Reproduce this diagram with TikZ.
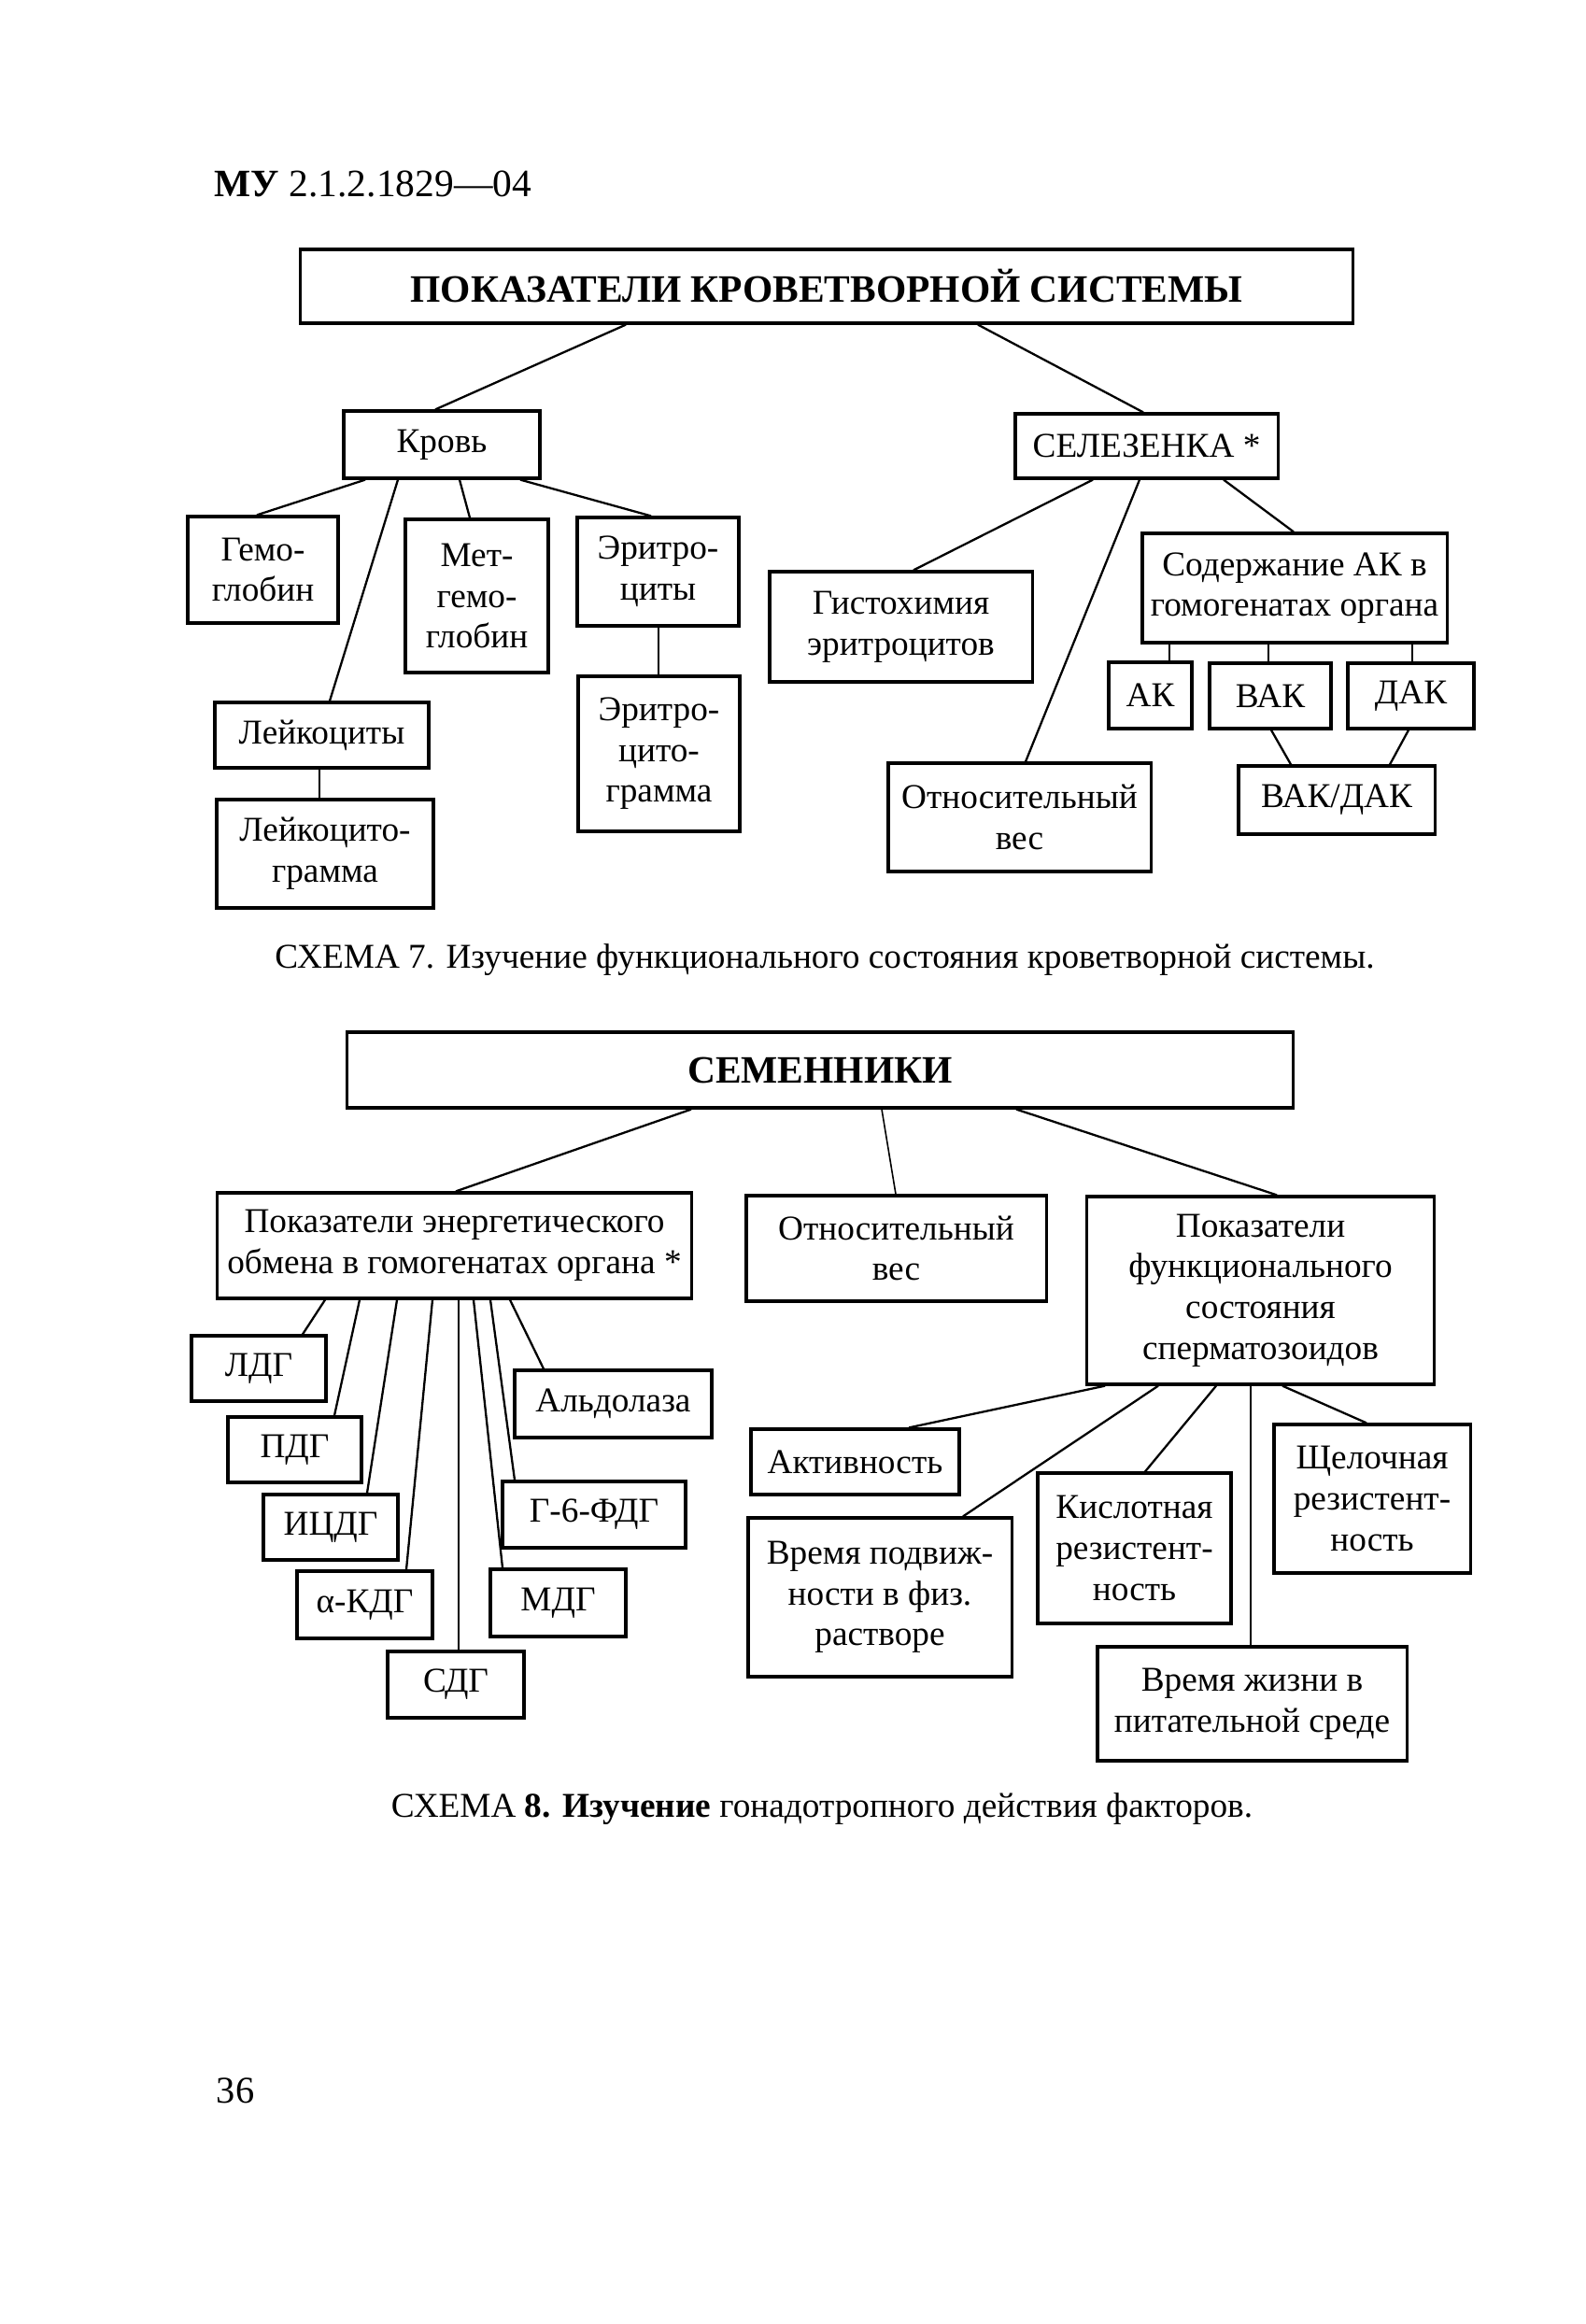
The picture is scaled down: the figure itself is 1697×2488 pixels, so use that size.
\documentclass[tikz,border=0pt]{standalone}
\usepackage{fontspec}
\setmainfont{Liberation Serif}
\usetikzlibrary{calc}
\newcommand\schemefont{\fontsize{10.6}{12.4}\selectfont}
\newcommand\bigboldfont{\fontsize{11.8}{14}\selectfont\bfseries}
\begin{document}
\begin{tikzpicture}[x=0.01cm,y=-0.01cm,
    box/.style={draw,line width=0.9pt,inner sep=0pt,align=center,font=\schemefont},
    titlebox/.style={box,font=\bigboldfont},
    link/.style={line width=0.65pt},
    thinlink/.style={line width=0.45pt}]
    \useasboundingbox (0,0) rectangle (1697,2488);

    \node[anchor=base west,inner sep=0pt,font=\fontsize{11.8}{13}\selectfont] (doc) at (229,211) {\textbf{МУ} 2.1.2.1829—04};

    \node[titlebox,minimum width=11.26cm,minimum height=0.79cm] (krovsys) at (885,306.5) {ПОКАЗАТЕЛИ КРОВЕТВОРНОЙ СИСТЕМЫ};
    \node[box,minimum width=2.10cm,minimum height=0.72cm] (krov) at (473,476) {Кровь};
    \node[box,minimum width=2.81cm,minimum height=0.69cm] (selez) at (1227.5,477.5) {СЕЛЕЗЕНКА *};
    \node[box,minimum width=1.61cm,minimum height=1.14cm] (gemo) at (281.5,610) {Гемо-\\глобин};
    \node[box,minimum width=1.53cm,minimum height=1.64cm] (metgemo) at (510.5,638) {Мет-\\гемо-\\глобин};
    \node[box,minimum width=1.73cm,minimum height=1.16cm] (eritro) at (704.5,612) {Эритро-\\циты};
    \node[box,minimum width=1.73cm,minimum height=1.66cm] (eritrogr) at (705.5,807) {Эритро-\\цито-\\грамма};
    \node[box,minimum width=2.29cm,minimum height=0.70cm] (leik) at (344.5,787) {Лейкоциты};
    \node[box,minimum width=2.32cm,minimum height=1.16cm] (leikgr) at (348,914) {Лейкоцито-\\грамма};
    \node[box,minimum width=2.81cm,minimum height=1.18cm] (gisto) at (964.5,671) {Гистохимия\\эритроцитов};
    \node[box,minimum width=3.26cm,minimum height=1.17cm] (soderzh) at (1386,629.5) {Содержание АК в\\гомогенатах органа};
    \node[box,minimum width=0.89cm,minimum height=0.71cm] (ak) at (1231.5,744.5) {АК};
    \node[box,minimum width=1.30cm,minimum height=0.70cm] (vak) at (1360,745) {ВАК};
    \node[box,minimum width=1.35cm,minimum height=0.70cm] (dak) at (1510.5,745) {ДАК};
    \node[box,minimum width=2.10cm,minimum height=0.73cm] (vakdak) at (1431,856.5) {ВАК/ДАК};
    \node[box,minimum width=2.81cm,minimum height=1.16cm] (otnsel) at (1091.5,875) {Относительный\\вес};

    \draw[link] ($(krovsys.south)+(-215,0)$) -- ($(krov.north)+(-7,0)$);
    \draw[link] ($(krovsys.south)+(162,0)$) -- ($(selez.north)+(-3.5,0)$);
    \draw[link] ($(krov.south)+(-82,0)$) -- ($(gemo.north)+(-6.5,0)$);
    \draw[link] ($(krov.south)+(-47,0)$) -- ($(leik.north)+(8.5,0)$);
    \draw[link] ($(krov.south)+(19,0)$) -- ($(metgemo.north)+(-7.5,0)$);
    \draw[link] ($(krov.south)+(84,0)$) -- ($(eritro.north)+(-7.5,0)$);
    \draw[link] ($(eritro.south)+(0.5,0)$) -- ($(eritrogr.north)+(-0.5,0)$);
    \draw[link] ($(leik.south)+(-2.5,0)$) -- ($(leikgr.north)+(-6,0)$);
    \draw[link] ($(selez.south)+(-57.5,0)$) -- ($(gisto.north)+(13.5,0)$);
    \draw[link] ($(selez.south)+(-7.5,0)$) -- ($(otnsel.north)+(6.5,0)$);
    \draw[link] ($(selez.south)+(82.5,0)$) -- ($(soderzh.north)+(-1,0)$);
    \draw[link] ($(soderzh.south)+(-134,0)$) -- ($(ak.north)+(20.5,0)$);
    \draw[link] ($(soderzh.south)+(-28,0)$) -- ($(vak.north)+(-2,0)$);
    \draw[link] ($(soderzh.south)+(126,0)$) -- ($(dak.north)+(1.5,0)$);
    \draw[link] ($(vak.south)+(1,0)$) -- ($(vakdak.north)+(-49,0)$);
    \draw[link] ($(dak.south)+(-2.5,0)$) -- ($(vakdak.north)+(57,0)$);

    \node[font=\schemefont] (cap7) at (883,1028) {СХЕМА 7. Изучение функционального состояния кроветворной системы.};

    \node[titlebox,minimum width=10.12cm,minimum height=0.81cm] (semen) at (878,1145.5) {СЕМЕННИКИ};
    \node[box,minimum width=5.07cm,minimum height=1.13cm] (energ) at (486.5,1333.5) {Показатели энергетического\\обмена в гомогенатах органа *};
    \node[box,minimum width=3.21cm,minimum height=1.13cm] (otnsem) at (959.5,1336.5) {Относительный\\вес};
    \node[box,minimum width=3.71cm,minimum height=2.01cm] (funk) at (1349.5,1381.5) {Показатели\\функционального\\состояния\\сперматозоидов};
    \node[box,minimum width=1.44cm,minimum height=0.70cm] (ldg) at (277,1465) {ЛДГ};
    \node[box,minimum width=1.43cm,minimum height=0.70cm] (pdg) at (315.5,1552) {ПДГ};
    \node[box,minimum width=1.44cm,minimum height=0.70cm] (icdg) at (354,1635) {ИЦДГ};
    \node[box,minimum width=1.45cm,minimum height=0.72cm] (akdg) at (390.5,1718) {α-КДГ};
    \node[box,minimum width=1.46cm,minimum height=0.71cm] (sdg) at (488,1803.5) {СДГ};
    \node[box,minimum width=1.45cm,minimum height=0.72cm] (mdg) at (597.5,1716) {МДГ};
    \node[box,minimum width=1.96cm,minimum height=0.71cm] (gfdg) at (636,1621.5) {Г-6-ФДГ};
    \node[box,minimum width=2.11cm,minimum height=0.72cm] (aldol) at (656.5,1503) {Альдолаза};
    \node[box,minimum width=2.23cm,minimum height=0.70cm] (aktiv) at (915.5,1565) {Активность};
    \node[box,minimum width=2.82cm,minimum height=1.70cm] (podv) at (942,1710) {Время подвиж-\\ности в физ.\\растворе};
    \node[box,minimum width=2.07cm,minimum height=1.61cm] (kisl) at (1214.5,1657.5) {Кислотная\\резистент-\\ность};
    \node[box,minimum width=2.10cm,minimum height=1.59cm] (shchel) at (1469,1604.5) {Щелочная\\резистент-\\ность};
    \node[box,minimum width=3.31cm,minimum height=1.22cm] (zhizn) at (1340.5,1824) {Время жизни в\\питательной среде};

    \draw[link] ($(semen.south)+(-138,0)$) -- ($(energ.north)+(1.5,0)$);
    \draw[thinlink] ($(semen.south)+(66,0)$) -- ($(otnsem.north)+(-0.5,0)$);
    \draw[link] ($(semen.south)+(210,0)$) -- ($(funk.north)+(17.5,0)$);
    \draw[link] ($(energ.south)+(-138.5,0)$) -- ($(ldg.north)+(47,0)$);
    \draw[link] ($(energ.south)+(-101.5,0)$) -- ($(pdg.north)+(42.5,0)$);
    \draw[link] ($(energ.south)+(-61.5,0)$) -- ($(icdg.north)+(39,0)$);
    \draw[link] ($(energ.south)+(-23.5,0)$) -- ($(akdg.north)+(44.5,0)$);
    \draw[thinlink] ($(energ.south)+(4.5,0)$) -- ($(sdg.north)+(3,0)$);
    \draw[link] ($(energ.south)+(20.5,0)$) -- ($(mdg.north)+(-59.5,0)$);
    \draw[link] ($(energ.south)+(38.5,0)$) -- ($(gfdg.north)+(-85,0)$);
    \draw[link] ($(energ.south)+(59.5,0)$) -- ($(aldol.north)+(-74.5,0)$);
    \draw[link] ($(funk.south)+(-166.5,0)$) -- ($(aktiv.north)+(57.5,0)$);
    \draw[link] ($(funk.south)+(-109.5,0)$) -- ($(podv.north)+(89,0)$);
    \draw[link] ($(funk.south)+(-47.5,0)$) -- ($(kisl.north)+(11.5,0)$);
    \draw[thinlink] ($(funk.south)+(-10.5,0)$) -- ($(zhizn.north)+(-1.5,0)$);
    \draw[link] ($(funk.south)+(23.5,0)$) -- ($(shchel.north)+(-6,0)$);

    \node[font=\schemefont] (cap8) at (880,1937) {СХЕМА \textbf{8. Изучение} гонадотропного действия факторов.};

    \node[font=\fontsize{11.5}{13}\selectfont] (page) at (252,2238) {36};
\end{tikzpicture}
\end{document}
